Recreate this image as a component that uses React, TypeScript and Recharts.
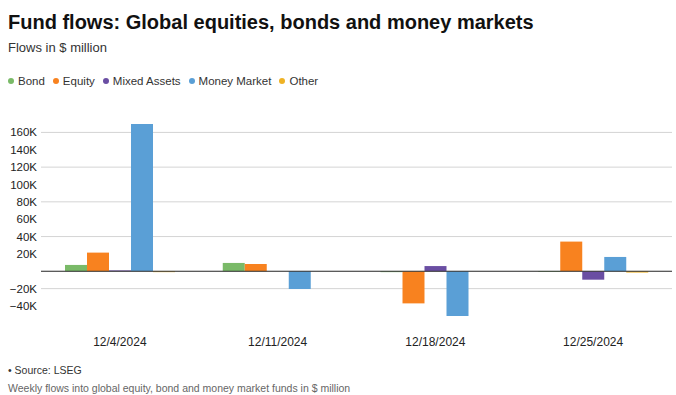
import React from "react";
import { BarChart, Bar, XAxis, YAxis, CartesianGrid, ReferenceLine } from "recharts";

const weeks = ["12/4/2024", "12/11/2024", "12/18/2024", "12/25/2024"];
const bond = [7300, 9600, -1000, -800];
const equity = [21500, 8400, -37000, 34200];
const mixedAssets = [1000, 0, 6000, -9700];
const moneyMarket = [169700, -20400, -51600, 16500];
const other = [-1000, 0, 0, -1500];
const yTicks = [-40000, -20000, 0, 20000, 40000, 60000, 80000, 100000, 120000, 140000, 160000];

const series = [
  { key: "bond", name: "Bond", color: "#7aba68" },
  { key: "equity", name: "Equity", color: "#f8821f" },
  { key: "mixed", name: "Mixed Assets", color: "#6a4ea3" },
  { key: "money", name: "Money Market", color: "#5a9fd6" },
  { key: "other", name: "Other", color: "#efb224" },
];

const data = weeks.map((week, i) => ({
  week,
  bond: bond[i],
  equity: equity[i],
  mixed: mixedAssets[i],
  money: moneyMarket[i],
  other: other[i],
}));

const font = "'Liberation Sans', Arial, Helvetica, sans-serif";

const fmt = (v: number) => (v === 0 ? "" : (v < 0 ? "\u2212" : "") + Math.abs(v) / 1000 + "K");

export default function App() {
  return (
    <div style={{ position: "absolute", left: 0, top: 0, width: 676, height: 395, background: "#fff", fontFamily: font }}>
      <div style={{ position: "absolute", left: 8, top: 10, fontSize: 20, lineHeight: "24px", fontWeight: 700, color: "#111", whiteSpace: "nowrap" }}>
        Fund flows: Global equities, bonds and money markets
      </div>
      <div style={{ position: "absolute", left: 8, top: 40, fontSize: 13, lineHeight: "16px", color: "#333" }}>
        Flows in $ million
      </div>
      <div style={{ position: "absolute", left: 8, top: 73, display: "flex", fontSize: 11.5, lineHeight: "16px", color: "#333" }}>
        {series.map((s) => (
          <div key={s.key} style={{ display: "flex", alignItems: "center", marginRight: 8 }}>
            <span style={{ width: 6, height: 6, borderRadius: 3, background: s.color, marginRight: 4, display: "inline-block" }} />
            {s.name}
          </div>
        ))}
      </div>
      <div style={{ position: "absolute", left: 0, top: 0 }}>
        <BarChart
          width={676}
          height={395}
          data={data}
          margin={{ top: 122, right: 4, bottom: 46, left: 0 }}
          barCategoryGap={24}
          barGap={0}
        >
          <CartesianGrid vertical={false} stroke="#d4d4d4" horizontalValues={yTicks} />
          <XAxis
            dataKey="week"
            axisLine={false}
            tickLine={false}
            height={30}
            tickMargin={12}
            tick={{ fill: "#222", fontSize: 12, fontFamily: font }}
          />
          <YAxis
            width={41}
            domain={[-55000, 172000]}
            ticks={yTicks}
            tickFormatter={fmt}
            axisLine={false}
            tickLine={false}
            tickSize={0}
            tickMargin={4}
            tick={{ fill: "#222", fontSize: 11.5, fontFamily: font }}
          />
          <ReferenceLine y={0} stroke="#333" strokeWidth={1} />
          {series.map((s) => (
            <Bar key={s.key} dataKey={s.key} name={s.name} fill={s.color} isAnimationActive={false} />
          ))}
        </BarChart>
      </div>
      <div style={{ position: "absolute", left: 8, top: 363, fontSize: 10.5, lineHeight: "14px", color: "#333" }}>
        • Source: LSEG
      </div>
      <div style={{ position: "absolute", left: 8, top: 381, fontSize: 10.5, lineHeight: "14px", color: "#666" }}>
        Weekly flows into global equity, bond and money market funds in $ million
      </div>
    </div>
  );
}
